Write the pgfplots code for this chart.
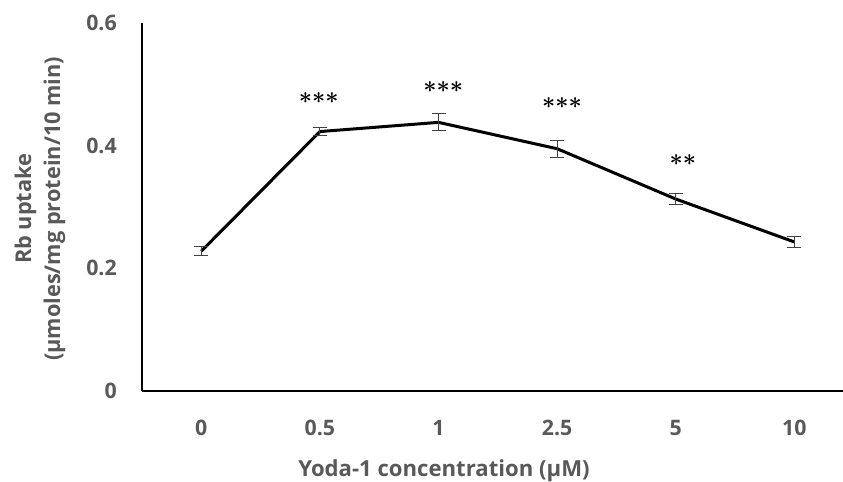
\documentclass[border=0pt]{standalone}
\usepackage{fontspec}
\setmainfont{Open Sans}
\usepackage{bm}
\usepackage{pgfplots}
\pgfplotsset{compat=1.18}
\definecolor{LblGray}{HTML}{595959}
\definecolor{BarGray}{HTML}{404040}
\tikzset{stars/.style={font=\fontsize{18}{18}\selectfont}}

% Rb uptake vs Yoda-1 concentration, mean and error
\pgfplotstableread{
x  y      err
0  0.228  0.007
1  0.423  0.007
2  0.438  0.014
3  0.395  0.014
4  0.313  0.009
5  0.243  0.009
}\uptake

\begin{document}
\begin{tikzpicture}
\useasboundingbox (-106.5pt,-68.25pt) rectangle (525.75pt,293.25pt);
\begin{axis}[at={(0,0)},anchor=south west,scale only axis,
  width=525.75pt,height=276pt,
  xmin=-0.5,xmax=5.41,ymin=0,ymax=0.6,
  axis lines*=left,
  axis line style={line width=2.2pt,black},
  major tick length=0pt,
  ytick={0,0.2,0.4,0.6},yticklabels={0,0.2,0.4,0.6},
  xtick={0,...,5},xticklabels={0,0.5,1,2.5,5,10},
  tick label style={font=\fontsize{16}{19}\selectfont\bfseries,text=LblGray,inner sep=0pt},
  yticklabel style={anchor=east,xshift=-18.75pt},
  xticklabel style={anchor=north,yshift=-21.75pt},
  xlabel={Yoda-1 concentration (µM)},
  xlabel style={at={(axis description cs:0.4308,0)},anchor=base,yshift=-63.75pt,
    font=\fontsize{16.6}{19}\selectfont\bfseries,text=LblGray},
  ylabel={Rb uptake\\(µmoles/mg protein/10 min)},
  ylabel style={at={(axis description cs:-0.1455,0.495)},anchor=center,align=center,
    font=\fontsize{16.3}{21.75}\selectfont\bfseries,text=LblGray},
  clip=false]
\addplot[black,line width=2.25pt,line join=round,mark=none,
  error bars/.cd,y dir=both,y explicit,
  error bar style={line width=0.75pt,BarGray},
  error mark options={rotate=90,mark size=5.25pt,line width=0.75pt,BarGray}]
  table[x=x,y=y,y error=err]{\uptake};
\node[stars] at (axis cs:0.99,0.477) {${\bm\ast}{\bm\ast}{\bm\ast}$};
\node[stars] at (axis cs:2.04,0.496) {${\bm\ast}{\bm\ast}{\bm\ast}$};
\node[stars] at (axis cs:3.04,0.469) {${\bm\ast}{\bm\ast}{\bm\ast}$};
\node[stars] at (axis cs:4.06,0.377) {${\bm\ast}{\bm\ast}$};
\end{axis}
\end{tikzpicture}
\end{document}
